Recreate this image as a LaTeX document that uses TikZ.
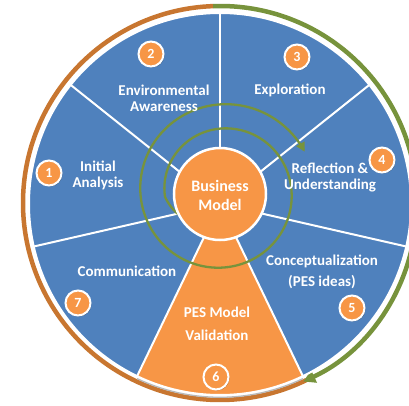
\documentclass[tikz,border=0pt]{standalone}
\usepackage{fontspec}
\setmainfont{Carlito}
\usetikzlibrary{arrows.meta,shadows}
\definecolor{segblue}{HTML}{4F81BD}
\definecolor{segorange}{HTML}{F79646}
\definecolor{ringorange}{RGB}{200,118,48}
\definecolor{cyclegreen}{HTML}{77933C}

\begin{document}
\begin{tikzpicture}[x=1pt,y=1pt,
  declare function={sprad(\t)=55+(217-\t)*0.06715-0.3*max(\t-185,0);},
  lbl/.style={text=white, align=center, inner sep=0pt,
    font=\bfseries\fontsize{15}{16}\selectfont},
  badge/.style={circle, fill=segorange, draw=white, line width=2pt,
    minimum size=25pt, inner sep=0pt, text=white,
    font=\bfseries\fontsize{14}{14}\selectfont,
    drop shadow={shadow xshift=1pt, shadow yshift=-1pt, opacity=0.35, fill=black}},
  ringline/.style={line width=4.5pt},
  spoke/.style={white, line width=2pt},
]
% frame of the page
\path[use as bounding box] (-220,-202) rectangle (189,204);
\clip (-220,-202) rectangle (189,204);

% outer cycle ring: orange half and green half ending in an arrow
\draw[ringline, ringorange] ([shift={(0,1)}]92:197) arc[start angle=92, end angle=296, radius=197];
\draw[ringline, cyclegreen, -{Triangle[length=12pt,width=13pt]}]
  ([shift={(0,1)}]92:197) arc[start angle=92, end angle=-65, radius=197];

% the seven wheel segments
\foreach \a in {90,141.4286,192.8571,295.7143,347.1429,38.5714}
  \fill[segblue] (0,0) -- (\a:191) arc[start angle=\a, end angle=\a+51.4286, radius=191] -- cycle;
\fill[segorange] (0,0) -- (244.2857:191) arc[start angle=244.2857, end angle=295.7143, radius=191] -- cycle;
\draw[white, line width=2pt] (0,0) circle[radius=191];
\draw[gray!55, line width=1.3pt] (244.6:193.3) arc[start angle=244.6, end angle=295.4, radius=193.3];
\foreach \a in {90,141.4286,192.8571,244.2857,295.7143,347.1429,38.5714}
  \draw[spoke] (0,0) -- (\a:191);

% green spiral around the centre
\draw[cyclegreen, line width=2.3pt, -{Triangle[length=9pt,width=9pt]}]
  plot[domain=225:-334, samples=320, smooth] ({2+sprad(\x)*cos(\x)}, {12+sprad(\x)*sin(\x)});

% centre disc
\node[circle, fill=segorange, draw=white, line width=2.5pt, minimum size=92pt, inner sep=0pt] (core) at (0,10) {};
\node[lbl, font=\bfseries\fontsize{16}{19}\selectfont] (coretext) at (0,9) {Business\\Model};

% segment titles
\node[lbl] (t1) at (-122,29) {Initial\\Analysis};
\node[lbl] (t2) at (-56,106) {Environmental\\Awareness};
\node[lbl] (t3) at (70,114) {Exploration};
\node[lbl] (t4) at (110,27) {Reflection \&\\Understanding};
\node[lbl, font=\bfseries\fontsize{15}{21}\selectfont] (t5) at (102,-68) {Conceptualization\\(PES ideas)};
\node[lbl, font=\bfseries\fontsize{15}{23}\selectfont] (t6) at (-3,-120) {PES Model\\Validation};
\node[lbl] (t7) at (-93,-67) {Communication};

% numbered badges
\node[badge] (b1) at (-171,31) {1};
\node[badge] (b2) at (-69,150) {2};
\node[badge] (b3) at (77,147) {3};
\node[badge] (b4) at (162,44) {4};
\node[badge] (b5) at (132,-104) {5};
\node[badge] (b6) at (-4,-173) {6};
\node[badge] (b7) at (-142,-99) {7};
\end{tikzpicture}
\end{document}
